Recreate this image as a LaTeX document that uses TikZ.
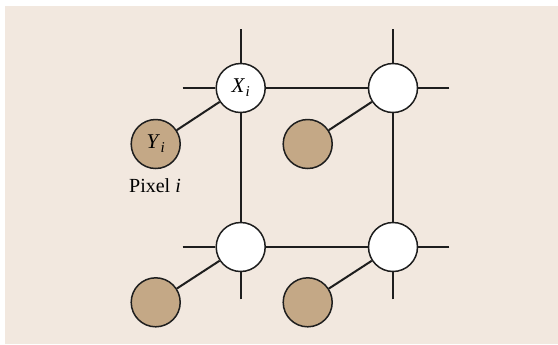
\documentclass[tikz,border=0pt]{standalone}
\usepackage{fontspec}
\setmainfont{Liberation Serif}
\definecolor{bgbeige}{RGB}{242,232,223}
\definecolor{pixbrown}{RGB}{196,168,134}
\definecolor{inkline}{RGB}{30,30,30}
\newcommand{\varlab}[2]{\textit{#1}\kern0.3pt\raisebox{-0.4ex}{\fontsize{7.5}{8}\selectfont\textit{#2}}}
\begin{document}
\begin{tikzpicture}[x=0.5pt,y=-0.5pt,
  hidden/.style={circle,draw=inkline,line width=0.75pt,fill=white,minimum size=24.5pt,inner sep=0pt,font=\fontsize{10.5}{12}\selectfont},
  observed/.style={circle,draw=inkline,line width=0.75pt,fill=pixbrown,minimum size=24.5pt,inner sep=0pt,font=\fontsize{10.5}{12}\selectfont},
  edge/.style={draw=inkline,line width=1pt}]
\useasboundingbox (0,0) rectangle (558,344);
\fill[bgbeige] (5,6) rectangle (558,344);
% nodes
\node[hidden] (xa) at (240.7,88) {\varlab{X}{i}};
\node[hidden] (xb) at (393,88) {};
\node[hidden] (xc) at (240.7,247) {};
\node[hidden] (xd) at (393,247) {};
\node[observed] (ya) at (155.7,144) {\varlab{Y}{i}};
\node[observed] (yb) at (307.7,144) {};
\node[observed] (yc) at (155.7,302.3) {};
\node[observed] (yd) at (307.7,302.3) {};
\node[font=\fontsize{10}{12}\selectfont] (lab) at (155,186) {Pixel \textit{i}};
% stub end points
\coordinate (a1) at (240.7,29);
\coordinate (a2) at (182.7,88);
\coordinate (b1) at (393,29);
\coordinate (b2) at (449.3,88);
\coordinate (c1) at (182.7,247);
\coordinate (c2) at (240.7,299.3);
\coordinate (d1) at (449.3,247);
\coordinate (d2) at (393,299.3);
% edges
\path[edge] (a1) -- (xa) (a2) -- (xa);
\path[edge] (b1) -- (xb) (b2) -- (xb);
\path[edge] (c1) -- (xc) (c2) -- (xc);
\path[edge] (d1) -- (xd) (d2) -- (xd);
\path[edge] (xa) -- (xb) (xa) -- (xc) (xc) -- (xd) (xb) -- (xd);
\path[edge] (ya) -- (xa) (yb) -- (xb) (yc) -- (xc) (yd) -- (xd);
\end{tikzpicture}
\end{document}
